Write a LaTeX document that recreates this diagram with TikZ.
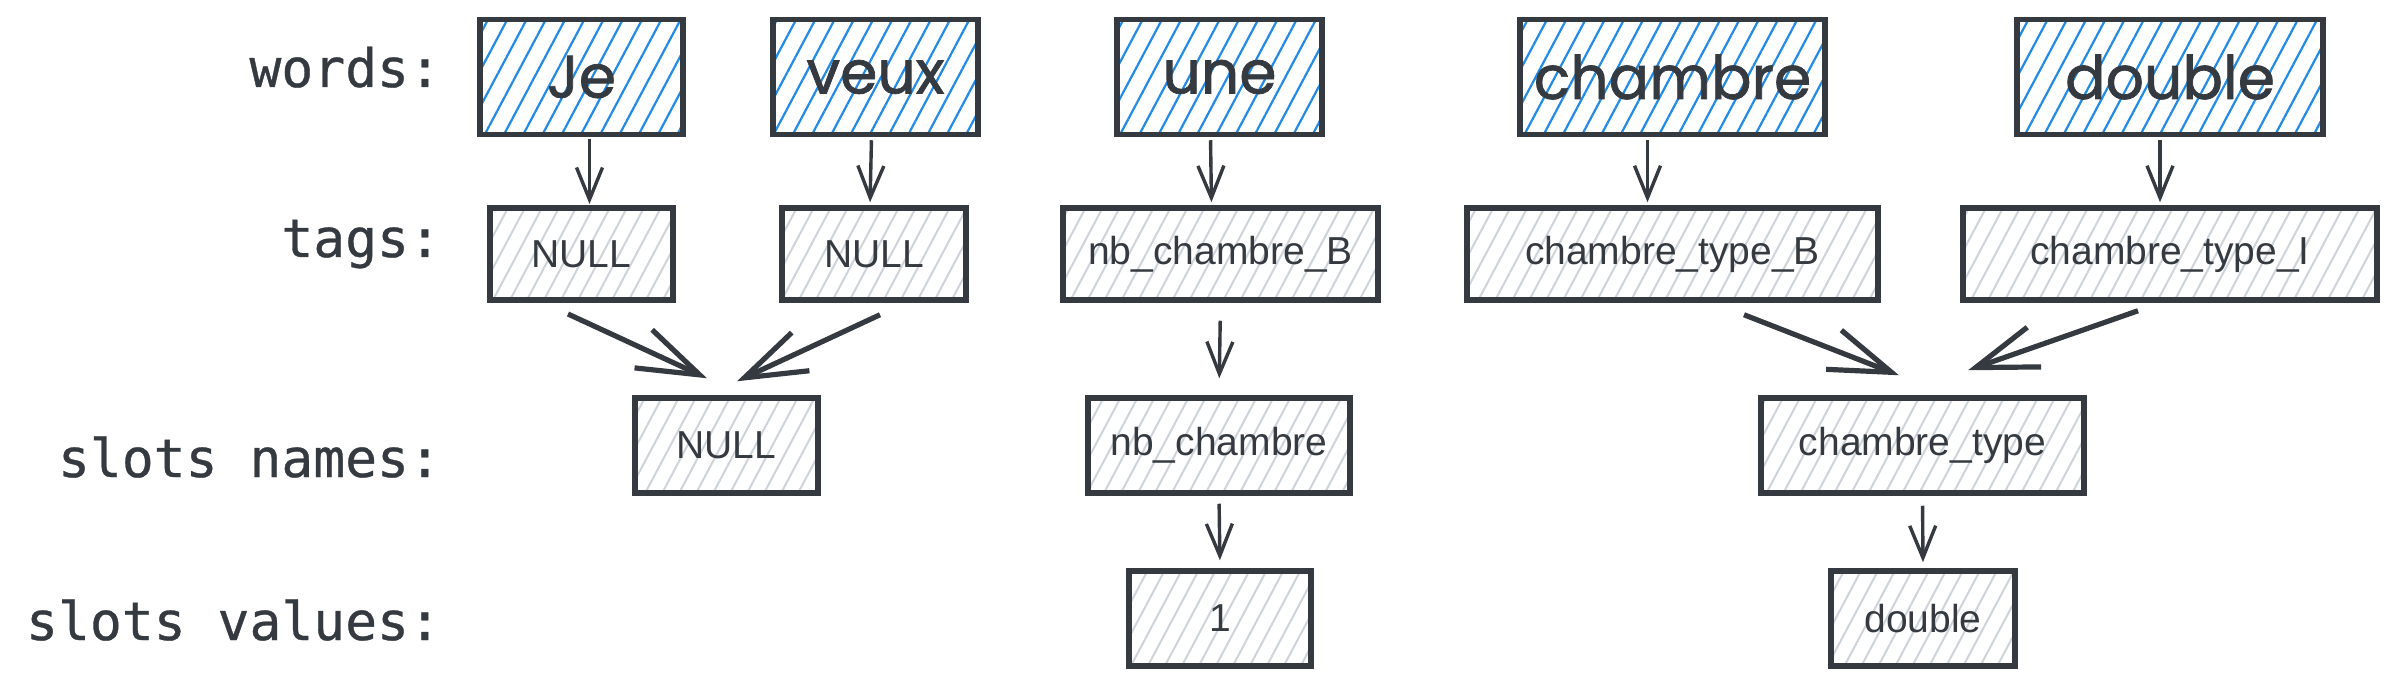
\documentclass[tikz,border=0pt]{standalone}
\usepackage{fontspec}
\usepackage{xcolor}
\usetikzlibrary{arrows.meta}
\usetikzlibrary{patterns.meta}

\newfontfamily\wordfont[FakeBold=1.2]{Poppins}
\newfontfamily\tagfont{Liberation Sans}
\newfontfamily\rowfont[FakeBold=0.6]{DejaVu Sans Mono}
\definecolor{ink}{HTML}{343A40}
\definecolor{wordblue}{HTML}{228BE6}
\definecolor{hatchgrey}{HTML}{CED4DA}

\begin{document}
\begin{tikzpicture}[x=0.5pt,y=-0.5pt,
  word/.style={draw=ink,line width=2.75pt,inner sep=0pt,minimum height=57.5pt,
    pattern={Lines[angle=62,distance=8.5pt,line width=1.1pt]},pattern color=wordblue,
    text=ink,font=\wordfont\fontsize{30}{36}\selectfont},
  tag/.style={draw=ink,line width=2.75pt,inner sep=0pt,minimum height=46pt,
    pattern={Lines[angle=62,distance=7.5pt,line width=1pt]},pattern color=hatchgrey,
    text=ink,font=\tagfont\fontsize{19.5}{23}\selectfont},
  slot/.style={tag,minimum height=47.5pt},
  rowlabel/.style={anchor=base east,text=ink,font=\rowfont\fontsize{26.5}{32}\selectfont},
  link/.style={draw=ink,line width=1.7pt,-{Straight Barb[length=16pt,width=13pt]}},
  merge/.style={draw=ink,line width=2.6pt,-{Straight Barb[length=31pt,width=21pt]}}]
\fill[white] (0,0) rectangle (2394,684);
\useasboundingbox (0,0) rectangle (2394,684);

\node[rowlabel] (lwords) at (448,87) {words:};
\node[rowlabel] (ltags) at (448,257) {tags:};
\node[rowlabel] (lnames) at (448,477) {slots names:};
\node[rowlabel] (lvalues) at (448,640) {slots values:};

\node[word,minimum width=101.5pt] (w1) at (581.5,77) {Je};
\node[word,minimum width=102.5pt] (w2) at (875.5,77) {veux};
\node[word,minimum width=102.5pt] (w3) at (1219.5,77) {une};
\node[word,minimum width=152.5pt] (w4) at (1672.5,77) {chambre};
\node[word,minimum width=153pt] (w5) at (2170,77) {double};

\node[tag,minimum width=91.5pt] (t1) at (581.5,254) {NULL};
\node[tag,minimum width=92pt] (t2) at (874,254) {NULL};
\node[tag,minimum width=157.5pt] (t3) at (1220.5,254) {nb\_chambre\_B};
\node[tag,minimum width=205.5pt] (t4) at (1672.5,254) {chambre\_type\_B};
\node[tag,minimum width=207pt] (t5) at (2170,254) {chambre\_type\_I};

\node[slot,minimum width=91.5pt] (s1) at (726.5,445.5) {NULL};
\node[slot,minimum width=131pt] (s2) at (1219,445.5) {nb\_chambre};
\node[slot,minimum width=161.5pt] (s3) at (1922.5,445.5) {chambre\_type};

\node[slot,minimum width=91pt] (v1) at (1220,618.5) {1};
\node[slot,minimum width=92pt] (v2) at (1923,618.5) {double};

\draw[link,shorten <=1.5pt,shorten >=1.5pt]
  ([xshift=4pt]w1.south)--([xshift=4pt]t1.north);
\draw[link,shorten <=1.5pt,shorten >=1.5pt]
  ([xshift=-2pt]w2.south)--([xshift=-2pt]t2.north);
\draw[link,shorten <=1.5pt,shorten >=1.5pt]
  ([xshift=-4.5pt]w3.south)--([xshift=-4.5pt]t3.north);
\draw[link,shorten <=1.5pt,shorten >=1.5pt]
  ([xshift=-12.5pt]w4.south)--([xshift=-12.5pt]t4.north);
\draw[link,shorten <=1.5pt,shorten >=1.5pt]
  ([xshift=-5pt]w5.south)--([xshift=-5pt]t5.north);

\draw[merge] ([xshift=-6.75pt,yshift=-6.5pt]t1.south)--([xshift=-9.75pt,yshift=8.5pt]s1.north);
\draw[merge] ([xshift=3pt,yshift=-6pt]t2.south)--([xshift=5.25pt,yshift=7pt]s1.north);
\draw[merge] ([xshift=35.75pt,yshift=-6pt]t4.south)--([xshift=-11.75pt,yshift=10pt]s3.north);
\draw[merge] ([xshift=-16pt,yshift=-4pt]t5.south)--([xshift=22.75pt,yshift=12.5pt]s3.north);

\draw[link,shorten <=9pt,shorten >=8.5pt] (t3.south)--(s2.north);
\draw[link,shorten <=4pt,shorten >=4pt] (s2.south)--(v1.north);
\draw[link,shorten <=5pt,shorten >=3pt] (s3.south)--(v2.north);
\end{tikzpicture}
\end{document}
